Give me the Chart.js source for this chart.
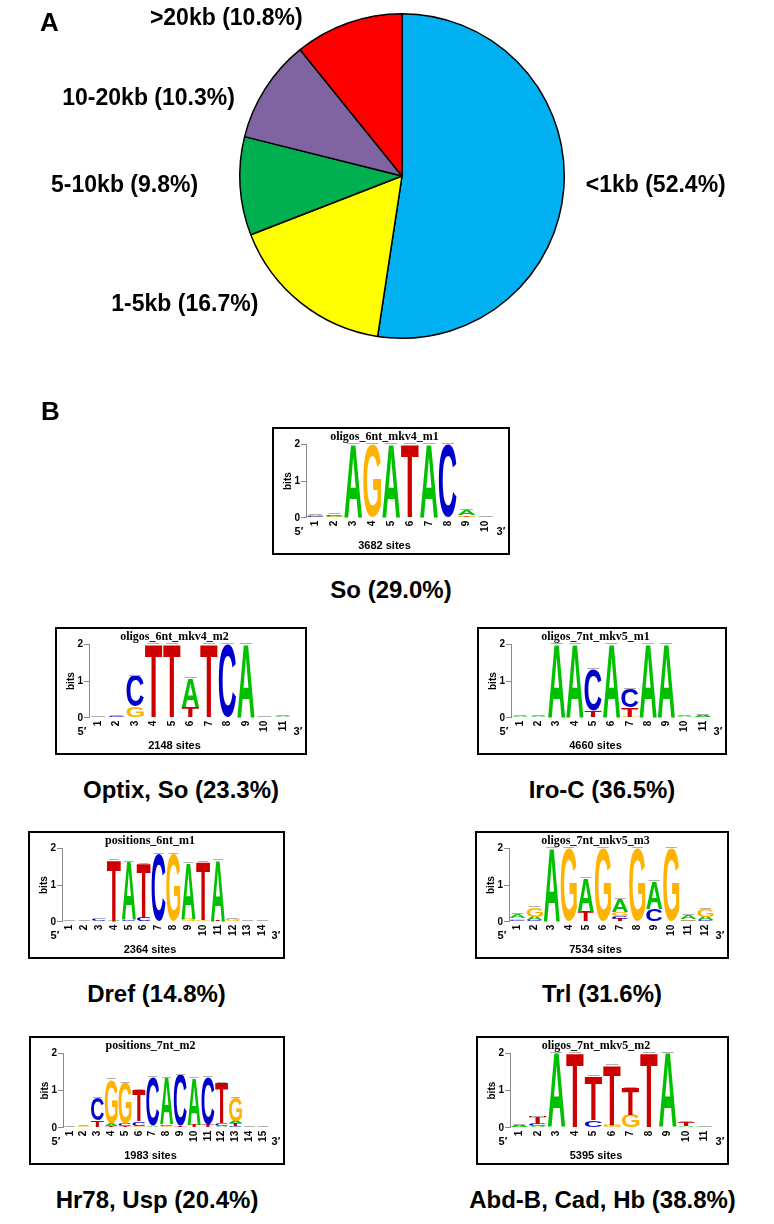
<!DOCTYPE html>
<html>
<head>
<meta charset="utf-8">
<script src="https://cdn.jsdelivr.net/npm/chart.js@4.4.0/dist/chart.umd.min.js"></script>
<style>
  body { margin: 0; background: #fff; font-family: "Liberation Sans", Arial, sans-serif; }
  #page { position: relative; width: 774px; height: 1224px; overflow: hidden; background: #fff; }
  .panel { position: absolute; font-weight: bold; font-size: 26px; line-height: 26px; }
  .box { position: absolute; border: 2px solid #000; box-sizing: border-box; background: #fff; }
  .box canvas { display: block; }
  .cap { position: absolute; font-weight: bold; font-size: 24px; line-height: 24px; white-space: nowrap; transform: translateX(-50%); }
  #pie { position: absolute; left: 0; top: 0; }
</style>
</head>
<body>
<div id="page">
  <canvas id="pie" width="774" height="360"></canvas>
  <div class="panel" style="left:40px; top:9px;">A</div>
  <div class="panel" style="left:41px; top:398px;">B</div>
</div>

<script>
  // ---------------------------
  // Pie (panel A)
  // ---------------------------
  const pieLabels = ["<1kb", "1-5kb", "5-10kb", "10-20kb", ">20kb"];
  const pieValues = [52.4, 16.7, 9.8, 10.3, 10.8];
  const pieColors = ["#00b0f0", "#ffff00", "#00b050", "#8064a2", "#ff0000"];

  // ---------------------------
  // Sequence logos (panel B)
  // letters are bottom -> top per position, heights in bits
  // ---------------------------
  const soTitle = "oligos_6nt_mkv4_m1";
  const soSites = 3682;
  const soCaption = "So (29.0%)";
  const soLetters = ["GCA", "GAC", "A", "G", "A", "T", "A", "C", "TGA", "A"];
  const soHeights = [[0.02, 0.02, 0.04], [0.02, 0.03, 0.05], [2], [2], [2], [2], [2], [2], [0.03, 0.04, 0.15], [0.02]];

  const optixTitle = "oligos_6nt_mkv4_m2";
  const optixSites = 2148;
  const optixCaption = "Optix, So (23.3%)";
  const optixLetters = ["A", "C", "GC", "T", "T", "TA", "T", "C", "A", "A", "A"];
  const optixHeights = [[0.03], [0.05], [0.3, 0.85], [2], [2], [0.3, 0.78], [2], [2], [2], [0.02], [0.05]];

  const iroTitle = "oligos_7nt_mkv5_m1";
  const iroSites = 4660;
  const iroCaption = "Iro-C (36.5%)";
  const iroLetters = ["A", "A", "A", "A", "TC", "A", "GTC", "A", "A", "A", "A"];
  const iroHeights = [[0.05], [0.05], [2], [2], [0.2, 1.12], [2], [0.03, 0.25, 0.5], [2], [2], [0.04], [0.08]];

  const drefTitle = "positions_6nt_m1";
  const drefSites = 2364;
  const drefCaption = "Dref (14.8%)";
  const drefLetters = ["A", "A", "C", "AT", "CA", "CT", "C", "G", "GA", "GT", "TA", "G", "A", "A"];
  const drefHeights = [[0.03], [0.02], [0.08], [0.03, 1.65], [0.06, 1.58], [0.1, 1.48], [1.85], [1.85], [0.07, 1.53], [0.06, 1.58], [0.02, 1.66], [0.08], [0.02], [0.03]];

  const trlTitle = "oligos_7nt_mkv5_m3";
  const trlSites = 7534;
  const trlCaption = "Trl (31.6%)";
  const trlLetters = ["CGA", "CAG", "A", "G", "TA", "G", "TCGA", "G", "CA", "G", "CGA", "CAG"];
  const trlHeights = [[0.04, 0.05, 0.11], [0.04, 0.1, 0.25], [2], [2], [0.28, 0.9], [2], [0.07, 0.08, 0.12, 0.35], [2], [0.35, 0.75], [2], [0.03, 0.04, 0.11], [0.04, 0.1, 0.22]];

  const hrTitle = "positions_7nt_m2";
  const hrSites = 1983;
  const hrCaption = "Hr78, Usp (20.4%)";
  const hrLetters = ["A", "G", "TC", "TAG", "TCG", "GCT", "AC", "GCA", "TC", "TA", "TC", "ACT", "CTAG", "A", "A"];
  const hrHeights = [[0.02], [0.05], [0.2, 0.6], [0.04, 0.08, 1.18], [0.04, 0.08, 1.08], [0.05, 0.12, 0.85], [0.06, 1.3], [0.06, 0.04, 1.25], [0.05, 1.38], [0.08, 1.25], [0.08, 1.28], [0.05, 0.08, 1.07], [0.05, 0.08, 0.05, 0.62], [0.02], [0.02]];

  const abdTitle = "oligos_7nt_mkv5_m2";
  const abdSites = 5395;
  const abdCaption = "Abd-B, Cad, Hb (38.8%)";
  const abdLetters = ["A", "ACT", "A", "T", "CT", "GT", "GT", "T", "A", "AT", "A"];
  const abdHeights = [[0.07], [0.05, 0.05, 0.2], [2], [2], [0.2, 1.2], [0.08, 1.6], [0.35, 0.72], [2], [2], [0.05, 0.1], [0.03]];

  const letterColors = { A: "#00c000", C: "#0000cc", G: "#ffb300", T: "#cc0000" };
  const SANS = "'Liberation Sans', Arial, sans-serif";
  const SERIF = "'Liberation Serif', 'Times New Roman', serif";

  // small label nudges (px) so the pie labels sit where the figure had them
  const pieLabelShift = [[0, -3], [-8, -6], [-4, -1], [6, 15], [-14, 5]];

  // ---------------------------
  // Pie chart
  // ---------------------------
  const pieLabelPlugin = {
    id: "pieLabels",
    afterDraw(chart) {
      const ctx = chart.ctx;
      const meta = chart.getDatasetMeta(0);
      ctx.save();
      ctx.font = "bold 23px " + SANS;
      ctx.fillStyle = "#000";
      ctx.textBaseline = "middle";
      meta.data.forEach((arc, i) => {
        const p = arc.getProps(["x", "y", "startAngle", "endAngle", "outerRadius"]);
        const mid = (p.startAngle + p.endAngle) / 2;
        const r = p.outerRadius + 10;
        const right = Math.cos(mid) > 0;
        const x = p.x + r * Math.cos(mid) + (right ? 12 : -28) + pieLabelShift[i][0];
        const y = p.y + r * Math.sin(mid) + pieLabelShift[i][1];
        ctx.textAlign = right ? "left" : "right";
        ctx.fillText(pieLabels[i] + " (" + pieValues[i].toFixed(1) + "%)", x, y);
      });
      ctx.restore();
    }
  };

  new Chart(document.getElementById("pie"), {
    type: "pie",
    data: {
      labels: pieLabels,
      datasets: [{
        data: pieValues,
        backgroundColor: pieColors,
        borderColor: "#000",
        borderWidth: 1.5
      }]
    },
    options: {
      responsive: false,
      animation: false,
      layout: { padding: { left: 239, right: 209, top: 13, bottom: 21 } },
      plugins: { legend: { display: false }, tooltip: { enabled: false } }
    },
    plugins: [pieLabelPlugin]
  });

  // ---------------------------
  // Logo drawing
  // ---------------------------
  const logoPlugin = {
    id: "logoLetters",
    afterDatasetsDraw(chart) {
      const ctx = chart.ctx;
      const yScale = chart.scales.y;
      ctx.save();
      ctx.font = "bold 100px " + SANS;
      ctx.textAlign = "left";
      ctx.textBaseline = "alphabetic";
      chart.data.datasets.forEach((ds, i) => {
        chart.getDatasetMeta(i).data.forEach((bar, j) => {
          const L = ds.letters[j];
          const v = ds.data[j];
          if (!L || !v) return;
          const p = bar.getProps(["x", "y", "base", "width"]);
          const h = Math.max(p.base - p.y, 0.7);
          const m = ctx.measureText(L);
          const gw = m.actualBoundingBoxLeft + m.actualBoundingBoxRight;
          const gh = m.actualBoundingBoxAscent + m.actualBoundingBoxDescent;
          ctx.save();
          ctx.translate(p.x - p.width / 2, p.base - h);
          ctx.scale(p.width / gw, h / gh);
          ctx.fillStyle = letterColors[L];
          ctx.fillText(L, m.actualBoundingBoxLeft, m.actualBoundingBoxAscent);
          ctx.restore();
        });
      });

      // small grey error ticks on top of each stack
      const first = chart.getDatasetMeta(0).data;
      ctx.strokeStyle = "#b0b0b0";
      ctx.lineWidth = 1;
      first.forEach((bar, j) => {
        let total = 0;
        chart.data.datasets.forEach((ds) => { total += ds.data[j] || 0; });
        const py = Math.round(yScale.getPixelForValue(total)) - 0.5;
        const w = bar.width * 0.35;
        ctx.beginPath();
        ctx.moveTo(bar.x - w, py);
        ctx.lineTo(bar.x + w, py);
        ctx.stroke();
      });
      ctx.restore();
    },
    afterDraw(chart) {
      const ctx = chart.ctx;
      const a = chart.chartArea;
      const xScale = chart.scales.x;
      ctx.save();
      ctx.fillStyle = "#000";
      // position numbers, rotated to read bottom -> top
      ctx.font = "bold 10px " + SANS;
      ctx.textAlign = "right";
      ctx.textBaseline = "middle";
      chart.data.labels.forEach((lab, i) => {
        ctx.save();
        ctx.translate(xScale.getPixelForTick(i), a.bottom + 3);
        ctx.rotate(-Math.PI / 2);
        ctx.fillText(lab, 0, 0);
        ctx.restore();
      });
      ctx.font = "bold 11px " + SANS;
      ctx.textAlign = "center";
      ctx.fillText("5\u2032", a.left - 7, a.bottom + 14);
      ctx.fillText("3\u2032", a.right + 6, a.bottom + 14);
      ctx.restore();
    }
  };

  function makeLogo(box, title, sites, caption, letters, heights) {
    const page = document.getElementById("page");
    const div = document.createElement("div");
    div.className = "box";
    div.style.left = box.left + "px";
    div.style.top = box.top + "px";
    div.style.width = box.width + "px";
    div.style.height = box.height + "px";
    const canvas = document.createElement("canvas");
    canvas.width = box.width - 4;
    canvas.height = box.height - 4;
    div.appendChild(canvas);
    page.appendChild(div);

    const cap = document.createElement("div");
    cap.className = "cap";
    cap.textContent = caption;
    cap.style.left = (box.left + box.width / 2) + "px";
    cap.style.top = (box.top + box.height + 23) + "px";
    page.appendChild(cap);

    const layers = Math.max(...letters.map((s) => s.length));
    const datasets = [];
    for (let k = 0; k < layers; k++) {
      datasets.push({
        data: heights.map((h) => h[k] || 0),
        letters: letters.map((s) => s[k] || ""),
        backgroundColor: "rgba(0,0,0,0)",
        borderWidth: 0,
        barPercentage: 0.94,
        categoryPercentage: 1
      });
    }

    return new Chart(canvas, {
      type: "bar",
      data: { labels: letters.map((_, i) => String(i + 1)), datasets },
      options: {
        responsive: false,
        animation: false,
        layout: { padding: { left: 0, right: 13, top: 0, bottom: 0 } },
        plugins: {
          legend: { display: false },
          tooltip: { enabled: false },
          title: {
            display: true,
            text: title,
            color: "#000",
            font: { family: SERIF, size: 12, weight: "bold" },
            padding: { top: 1, bottom: 0 }
          },
          subtitle: {
            display: true,
            text: sites + " sites",
            position: "bottom",
            color: "#000",
            font: { family: SANS, size: 11, weight: "bold" },
            padding: { top: 4, bottom: 0 }
          }
        },
        scales: {
          x: {
            stacked: true,
            grid: { display: false },
            border: { display: false },
            ticks: { display: false },
            afterFit(s) { s.height = 18; }
          },
          y: {
            stacked: true,
            min: 0,
            max: 2,
            ticks: {
              stepSize: 1,
              padding: 1,
              color: "#000",
              font: { family: SANS, size: 10, weight: "bold" }
            },
            grid: { drawOnChartArea: false, tickLength: 5, color: "#888" },
            border: { color: "#888" },
            title: {
              display: true,
              text: "bits",
              color: "#000",
              font: { family: SANS, size: 10, weight: "bold" },
              padding: { top: 8, bottom: 0 }
            },
            afterFit(s) { s.width = 32; }
          }
        }
      },
      plugins: [logoPlugin]
    });
  }

  makeLogo({ left: 272, top: 427, width: 238, height: 128 }, soTitle, soSites, soCaption, soLetters, soHeights);
  makeLogo({ left: 55, top: 627, width: 252, height: 128 }, optixTitle, optixSites, optixCaption, optixLetters, optixHeights);
  makeLogo({ left: 477, top: 627, width: 250, height: 128 }, iroTitle, iroSites, iroCaption, iroLetters, iroHeights);
  makeLogo({ left: 28, top: 831, width: 257, height: 128 }, drefTitle, drefSites, drefCaption, drefLetters, drefHeights);
  makeLogo({ left: 475, top: 831, width: 254, height: 128 }, trlTitle, trlSites, trlCaption, trlLetters, trlHeights);
  makeLogo({ left: 29, top: 1036, width: 256, height: 129 }, hrTitle, hrSites, hrCaption, hrLetters, hrHeights);
  makeLogo({ left: 476, top: 1036, width: 253, height: 129 }, abdTitle, abdSites, abdCaption, abdLetters, abdHeights);
</script>
</body>
</html>
